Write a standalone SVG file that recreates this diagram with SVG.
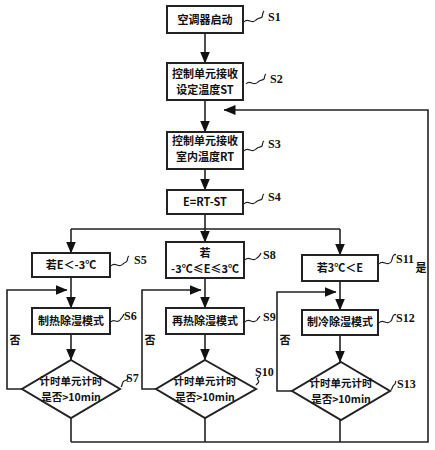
<svg xmlns="http://www.w3.org/2000/svg" width="435" height="450" viewBox="0 0 435 450">
<defs>
<marker id="ahl" markerWidth="12" markerHeight="10" refX="11.5" refY="5" orient="auto" markerUnits="userSpaceOnUse" viewBox="0 0 12 10">
<path d="M0,0 L12,5 L0,10 Z" fill="#111"/>
</marker>
</defs>
<style>
.box{fill:#fff;stroke:#222;stroke-width:2}
.ln{fill:none;stroke:#222;stroke-width:1.6}
.sq{fill:none;stroke:#222;stroke-width:1.2}
.t{font-family:"Noto Sans CJK SC","Liberation Serif",serif;font-size:11px;font-weight:bold;fill:#111;text-anchor:middle}
.td{font-family:"Noto Sans CJK SC","Liberation Serif",serif;font-size:10.5px;font-weight:bold;fill:#111;text-anchor:middle}
.lb{font-family:"Liberation Serif","Noto Sans CJK SC",serif;font-size:12px;font-weight:bold;fill:#111}
</style>
<rect width="435" height="450" fill="#fff"/>
<g id="connectors">
<path class="ln" d="M205,33 V63" marker-end="url(#ahl)"/>
<path class="ln" d="M205,100 V132" marker-end="url(#ahl)"/>
<path class="ln" d="M205,169 V190" marker-end="url(#ahl)"/>
<path class="ln" d="M205,214 V229 M71,229 H340"/>
<path class="ln" d="M71,229 V253" marker-end="url(#ahl)"/>
<path class="ln" d="M205,229 V242" marker-end="url(#ahl)"/>
<path class="ln" d="M340,229 V255" marker-end="url(#ahl)"/>
<path class="ln" d="M71,277 V308" marker-end="url(#ahl)"/>
<path class="ln" d="M71,334 V360" marker-end="url(#ahl)"/>
<path class="ln" d="M22,389 H7 V290 H67" marker-end="url(#ahl)"/>
<path class="ln" d="M205,278 V308" marker-end="url(#ahl)"/>
<path class="ln" d="M205,334 V360" marker-end="url(#ahl)"/>
<path class="ln" d="M156,389 H142 V290 H201" marker-end="url(#ahl)"/>
<path class="ln" d="M340,281 V310" marker-end="url(#ahl)"/>
<path class="ln" d="M340,335 V362" marker-end="url(#ahl)"/>
<path class="ln" d="M292,391 H277 V292 H336" marker-end="url(#ahl)"/>
<path class="ln" d="M71,418 V442 M205,418 V442 M340,420 V442 M71,442 H428 V110 H224" marker-end="url(#ahl)"/>
<text class="t" x="15" y="344">否</text>
<text class="t" x="150" y="344">否</text>
<text class="t" x="285" y="344">否</text>
<text class="t" x="421" y="272">是</text>
</g>
<g id="S1">
<rect class="box" x="167" y="6" width="76" height="27"/>
<text class="t" x="205" y="24">空调器启动</text>
<path class="sq" d="M244,22 c4,-5 8,3 12,-2 c3,-3 4,-1 6,-3 c1,-2 0,-4 2,-6"/>
<text class="lb" x="268" y="21">S1</text>
</g>
<g id="S2">
<rect class="box" x="167" y="63" width="76" height="37"/>
<text class="t" x="205" y="78">控制单元接收</text>
<text class="t" x="205" y="94">设定温度ST</text>
<path class="sq" d="M246,84 c4,-5 8,3 12,-2 c3,-3 4,-1 6,-3 c1,-2 0,-4 2,-5"/>
<text class="lb" x="270" y="83">S2</text>
</g>
<g id="S3">
<rect class="box" x="167" y="132" width="76" height="37"/>
<text class="t" x="205" y="145">控制单元接收</text>
<text class="t" x="205" y="161">室内温度RT</text>
<path class="sq" d="M244,151 c4,-5 8,3 12,-2 c3,-3 4,-1 6,-3 c1,-2 0,-4 2,-5"/>
<text class="lb" x="268" y="148">S3</text>
</g>
<g id="S4">
<rect class="box" x="167" y="190" width="76" height="24"/>
<text class="t" x="205" y="206">E=RT-ST</text>
<path class="sq" d="M244,204 c4,-5 8,3 12,-2 c3,-3 4,-1 6,-3 c1,-2 0,-4 2,-5"/>
<text class="lb" x="268" y="201">S4</text>
</g>
<g id="S5">
<rect class="box" x="32" y="253" width="78" height="24"/>
<text class="t" x="71" y="269">若E＜-3℃</text>
<path class="sq" d="M111,266 c4,-5 8,3 12,-2 c2,-2 3,-1 4,-3 c1,-2 0,-4 2,-5"/>
<text class="lb" x="134" y="264">S5</text>
</g>
<g id="S6">
<rect class="box" x="32" y="308" width="78" height="26"/>
<text class="t" x="71" y="325">制热除湿模式</text>
<path class="sq" d="M111,322 c3,-4 6,2 9,-2 c2,-3 3,-3 4,-6"/>
<text class="lb" x="124" y="320">S6</text>
</g>
<g id="S7">
<polygon class="box" points="71,360 120,389 71,418 22,389"/>
<text class="td" x="71" y="385">计时单元计时</text>
<text class="td" x="71" y="401">是否&gt;10min</text>
<path class="sq" d="M121,387 c2,-3 1,-5 3,-6 c2,-1 4,0 4,-4"/>
<text class="lb" x="126" y="382">S7</text>
</g>
<g id="S8">
<rect class="box" x="166" y="242" width="78" height="36"/>
<text class="t" x="205" y="257">若</text>
<text class="t" x="205" y="273">-3℃≤E≤3℃</text>
<path class="sq" d="M245,260 c4,-5 8,3 12,-2 c2,-2 3,-2 4,-5"/>
<text class="lb" x="263" y="259">S8</text>
</g>
<g id="S9">
<rect class="box" x="166" y="308" width="78" height="26"/>
<text class="t" x="205" y="325">再热除湿模式</text>
<path class="sq" d="M245,322 c4,-5 8,3 12,-2 c1,-2 2,-2 3,-4"/>
<text class="lb" x="263" y="321">S9</text>
</g>
<g id="S10">
<polygon class="box" points="205,360 256,389 205,418 156,389"/>
<text class="td" x="205" y="385">计时单元计时</text>
<text class="td" x="205" y="401">是否&gt;10min</text>
<path class="sq" d="M256,385 c2,-2 4,-3 2,-5 c-2,-2 1,-3 2,-4"/>
<text class="lb" x="255" y="376">S10</text>
</g>
<g id="S11">
<rect class="box" x="302" y="255" width="76" height="26"/>
<text class="t" x="340" y="272">若3℃＜E</text>
<path class="sq" d="M379,264 c4,-5 8,3 12,-2 c2,-3 1,-6 3,-7 c1,-1 2,0 2,0"/>
<text class="lb" x="396" y="263">S11</text>
</g>
<g id="S12">
<rect class="box" x="302" y="310" width="76" height="25"/>
<text class="t" x="340" y="326">制冷除湿模式</text>
<path class="sq" d="M379,323 c4,-5 8,3 12,-2 c2,-2 1,-5 3,-6 c1,-1 2,0 2,0"/>
<text class="lb" x="396" y="322">S12</text>
</g>
<g id="S13">
<polygon class="box" points="341,362 390,391 341,420 292,391"/>
<text class="td" x="341" y="387">计时单元计时</text>
<text class="td" x="341" y="403">是否&gt;10min</text>
<path class="sq" d="M391,390 c2,-2 1,-4 3,-5 c2,-1 1,-3 2,-4"/>
<text class="lb" x="397" y="388">S13</text>
</g>
</svg>
